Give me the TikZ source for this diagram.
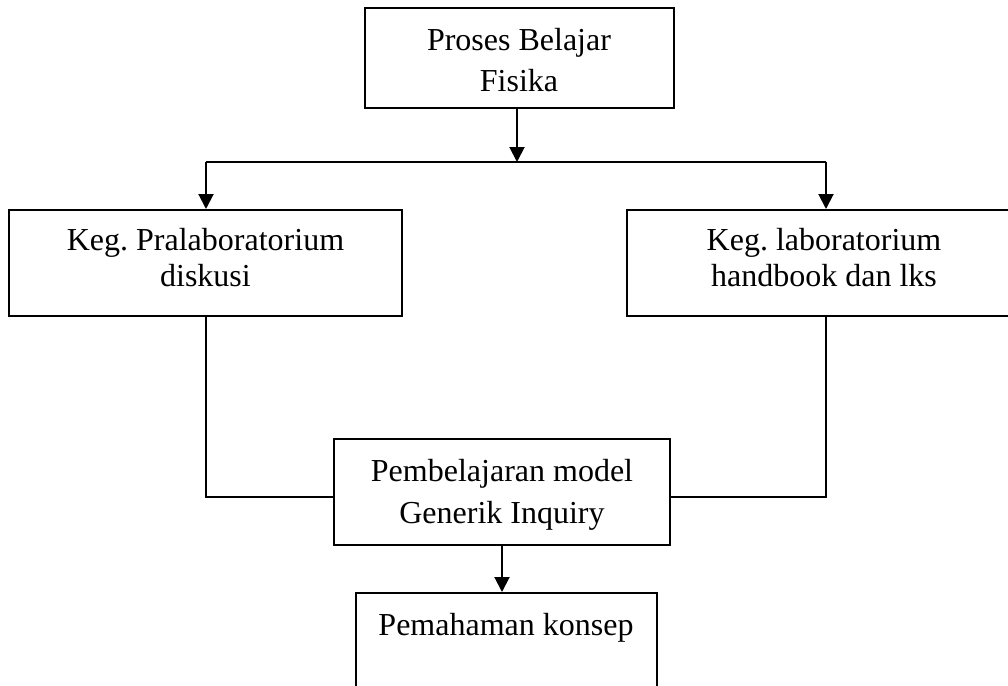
\documentclass[tikz,border=0pt]{standalone}
\usepackage{fontspec}
\setmainfont{Liberation Serif}
\usetikzlibrary{arrows.meta}
\frenchspacing
\begin{document}
\begin{tikzpicture}[x=0.5pt,y=-0.5pt,
  box/.style={draw, line width=1pt, inner sep=0pt, rectangle},
  txt/.style={anchor=base, align=center, inner sep=0pt},
  conn/.style={line width=1pt},
  arr/.style={conn, -{Triangle[width=7.5pt,length=7.5pt]}}]
\useasboundingbox (0,0) rectangle (1008,686);
% boxes
\node[box, minimum width=154.5pt, minimum height=50pt] (top) at (519.5,58) {};
\node[box, minimum width=196.5pt, minimum height=53pt] (left) at (205.5,263) {};
\node[box, minimum width=197pt, minimum height=53pt] (right) at (824,263) {};
\node[box, minimum width=168pt, minimum height=53pt] (mid) at (502,492) {};
\node[box, minimum width=150.5pt, minimum height=63.5pt] (bot) at (506.5,656.5) {};
% texts (anchor base = baseline of the last line)
\node[txt, font=\fontsize{16}{20.5}\selectfont] (ttop) at (519,91) {Proses Belajar\\Fisika};
\node[txt, font=\fontsize{16}{18}\selectfont] (tleft) at (205.5,286) {Keg. Pralaboratorium\\diskusi};
\node[txt, font=\fontsize{16}{18}\selectfont] (tright) at (824,286) {Keg. laboratorium\\handbook dan lks};
\node[txt, font=\fontsize{16}{21}\selectfont] (tmid) at (502,523) {Pembelajaran model\\Generik Inquiry};
\node[txt, font=\fontsize{16}{18}\selectfont] (tbot) at (506,635) {Pemahaman konsep};
% connectors
\coordinate (busL) at (206,162);
\coordinate (busM) at (517,162);
\coordinate (busR) at (826,162);
\coordinate (jl) at (206,497);
\coordinate (jr) at (826,497);
\draw[arr] (busM |- top.south) -- (busM);
\draw[conn] (busL) -- (busR);
\draw[arr] (busL) -- (busL |- left.north);
\draw[arr] (busR) -- (busR |- right.north);
\draw[conn] (jl |- left.south) -- (jl) -- (jl -| mid.west);
\draw[conn] (jr |- right.south) -- (jr) -- (jr -| mid.east);
\draw[arr] (mid.south) -- (mid.south |- bot.north);
\end{tikzpicture}
\end{document}
